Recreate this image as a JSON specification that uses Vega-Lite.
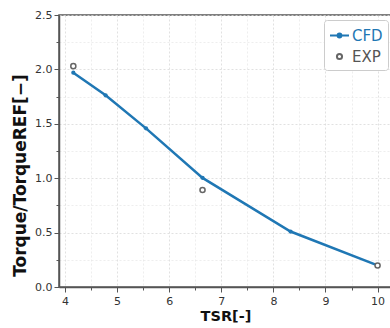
{
  "$schema": "https://vega.github.io/schema/vega-lite/v6.json",
  "width": 333,
  "height": 272,
  "autosize": {"type": "none"},
  "padding": {"left": 59, "top": 15, "right": 0, "bottom": 41},
  "config": {
    "font": "DejaVu Sans",
    "view": {"stroke": "#555555", "strokeWidth": 1.5},
    "axis": {"labelFont": "DejaVu Sans", "labelFontSize": 11, "labelColor": "#333333", "titleFont": "DejaVu Sans", "titleColor": "#111111", "titleFontWeight": "bold"}
  },
  "data": {
    "values": [
      {"tsr": 4.16, "torque": 1.97, "series": "CFD"},
      {"tsr": 4.78, "torque": 1.762, "series": "CFD"},
      {"tsr": 5.555, "torque": 1.458, "series": "CFD"},
      {"tsr": 6.64, "torque": 1.003, "series": "CFD"},
      {"tsr": 8.33, "torque": 0.51, "series": "CFD"},
      {"tsr": 10.0, "torque": 0.198, "series": "CFD"},
      {"tsr": 4.16, "torque": 2.03, "series": "EXP"},
      {"tsr": 6.64, "torque": 0.892, "series": "EXP"},
      {"tsr": 10.0, "torque": 0.198, "series": "EXP"}
    ]
  },
  "resolve": {"axis": {"x": "independent", "y": "independent"}},
  "layer": [
    {
      "transform": [{"filter": "datum.series === 'CFD'"}],
      "mark": {"type": "line", "color": "#1f77b4", "strokeWidth": 2.5},
      "encoding": {
        "x": {"field": "tsr", "type": "quantitative", "scale": {"domain": [3.885, 10.277], "nice": false, "zero": false},
          "axis": {"orient": "bottom", "title": "TSR[-]", "titleFontSize": 14.5, "values": [4,5,6,7,8,9,10], "format": "d", "tickSize": 5, "tickColor": "#555555", "domainColor": "#555555", "domainWidth": 1.5, "grid": true, "gridColor": "#d9d9d9", "gridDash": [2,2], "gridWidth": 0.8, "labelPadding": 3, "titlePadding": 3}},
        "y": {"field": "torque", "type": "quantitative", "scale": {"domain": [0, 2.5], "nice": false},
          "axis": {"orient": "left", "title": "Torque/TorqueREF[−]", "titleFontSize": 17, "titleY": 160, "values": [0,0.5,1,1.5,2,2.5], "format": ".1f", "tickSize": 5, "tickColor": "#555555", "domainColor": "#555555", "domainWidth": 1.5, "grid": true, "gridColor": "#d9d9d9", "gridDash": [2,2], "gridWidth": 0.8, "labelPadding": 2, "titlePadding": 5}}
      }
    },
    {
      "transform": [{"filter": "datum.series === 'CFD'"}],
      "mark": {"type": "point", "filled": true, "color": "#1f77b4", "size": 18, "opacity": 1},
      "encoding": {
        "x": {"field": "tsr", "type": "quantitative",
          "axis": {"orient": "bottom", "title": null, "values": [4.5,5.5,6.5,7.5,8.5,9.5], "labels": false, "tickSize": 3, "tickColor": "#555555", "domain": false, "grid": true, "gridColor": "#e3e3e3", "gridDash": [2,2], "gridWidth": 0.6}},
        "y": {"field": "torque", "type": "quantitative",
          "axis": {"orient": "left", "title": null, "values": [0.25,0.75,1.25,1.75,2.25], "labels": false, "tickSize": 3, "tickColor": "#555555", "domain": false, "grid": true, "gridColor": "#e3e3e3", "gridDash": [2,2], "gridWidth": 0.6}}
      }
    },
    {
      "transform": [{"filter": "datum.series === 'EXP'"}],
      "mark": {"type": "point", "shape": "circle", "filled": false, "stroke": "#666666", "fill": "white", "fillOpacity": 1, "strokeWidth": 1.5, "size": 26, "opacity": 1},
      "encoding": {
        "x": {"field": "tsr", "type": "quantitative", "axis": null},
        "y": {"field": "torque", "type": "quantitative", "axis": null}
      }
    },
    {
      "mark": {"type": "point", "opacity": 0},
      "encoding": {
        "x": {"field": "tsr", "type": "quantitative", "axis": null},
        "y": {"field": "torque", "type": "quantitative", "axis": null},
        "color": {"field": "series", "type": "nominal", "scale": {"domain": ["CFD", "EXP"], "range": ["#1f77b4", "#666666"]},
          "legend": {"title": null, "orient": "none", "legendX": 265, "legendY": 5, "padding": 5, "fillColor": "white", "strokeColor": "#cccccc", "cornerRadius": 3,
            "symbolSize": 361, "symbolStrokeWidth": 2, "symbolOpacity": 1, "labelFontSize": 15, "labelFont": "DejaVu Sans", "rowPadding": 2, "labelOffset": 2, "symbolLimit": 0,
            "labelColor": {"expr": "datum.label === 'CFD' ? '#1f77b4' : '#555555'"}}},
        "fill": {"field": "series", "type": "nominal", "scale": {"domain": ["CFD", "EXP"], "range": ["#1f77b4", "white"]}},
        "shape": {"field": "series", "type": "nominal", "scale": {"domain": ["CFD", "EXP"], "range": ["M-1,0H1M-0.2,0A0.2,0.2 0 1,1 0.2,0A0.2,0.2 0 1,1 -0.2,0Z", "M-0.27,0A0.27,0.27 0 1,1 0.27,0A0.27,0.27 0 1,1 -0.27,0Z"]}}
      }
    }
  ]
}
